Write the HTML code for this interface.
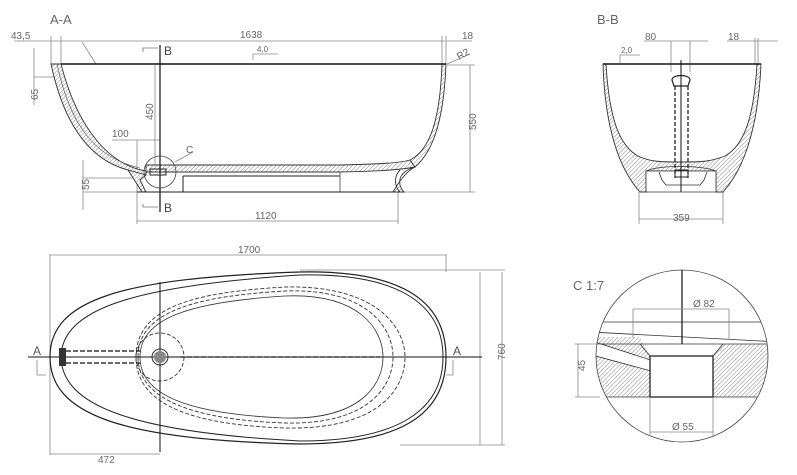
<!DOCTYPE html>
<html><head><meta charset="utf-8"><style>
html,body{margin:0;padding:0;background:#fff}
svg{display:block}
text{font-family:"Liberation Sans",sans-serif;fill:#666}
</style></head><body>
<svg width="797" height="475" viewBox="0 0 797 475" xmlns="http://www.w3.org/2000/svg">
<defs>
<pattern id="h" width="3" height="3" patternUnits="userSpaceOnUse" patternTransform="rotate(45)">
<rect width="3" height="3" fill="#fff"/><line x1="0" y1="0" x2="0" y2="3" stroke="#777" stroke-width="0.9"/>
</pattern>
</defs>

<!-- ===== A-A ===== -->
<text x="50" y="24" font-size="13">A-A</text>
<g stroke="#888" stroke-width="0.8" fill="none">
<line x1="14" y1="41" x2="445" y2="41"/>
<line x1="51" y1="36" x2="51" y2="64"/><line x1="61" y1="36" x2="61" y2="64"/>
<line x1="442" y1="36" x2="442" y2="64"/><line x1="446" y1="36" x2="446" y2="64"/>
<line x1="446" y1="41" x2="472" y2="41"/>
<line x1="34" y1="48" x2="34" y2="105"/>
<line x1="34" y1="77" x2="62" y2="77"/>
<line x1="82" y1="42" x2="96" y2="64"/>
<line x1="155" y1="65" x2="155" y2="165"/>
<line x1="112" y1="140" x2="160" y2="140"/><line x1="137" y1="140" x2="137" y2="224"/>
<line x1="83" y1="160" x2="83" y2="210"/><line x1="83" y1="178" x2="140" y2="178"/><line x1="83" y1="192" x2="137" y2="192"/>
<line x1="137" y1="221" x2="398" y2="221"/><line x1="398" y1="192" x2="398" y2="224"/>
<line x1="470" y1="65" x2="470" y2="192"/><line x1="400" y1="192" x2="475" y2="192"/><line x1="447" y1="65" x2="475" y2="65"/>
<line x1="175" y1="162" x2="193" y2="152"/>
<line x1="447" y1="64" x2="470" y2="54"/>
<line x1="253" y1="60" x2="253" y2="54"/><line x1="253" y1="54" x2="278" y2="54"/>
</g>
<text x="11" y="39" font-size="10">43,5</text>
<text x="240" y="38" font-size="10">1638</text>
<text x="462" y="39" font-size="10">18</text>
<text x="257" y="52" font-size="8">4,0</text>
<text x="457" y="58" font-size="10" transform="rotate(-30 462 55)">R2</text>
<text x="112" y="137" font-size="10">100</text>
<text x="153" y="120" font-size="10" transform="rotate(-90 153 120)">450</text>
<text x="84" y="195" font-size="10" transform="rotate(-90 84 190)">55</text>
<text x="35" y="103" font-size="10" transform="rotate(-90 35 100)">65</text>
<text x="470" y="136" font-size="10" transform="rotate(-90 470 130)">550</text>
<text x="186" y="153" font-size="10">C</text>
<text x="255" y="219" font-size="10">1120</text>
<!-- left wall band -->
<path d="M51,64 C64,125 90,160 128,170 L137,175 L146,175 L146,171 C110,165 78,130 61,64 Z" fill="url(#h)" stroke="#333" stroke-width="0.9"/>
<path d="M57,64 C70,125 95,158 140,168" fill="none" stroke="#555" stroke-width="0.6"/>
<!-- left foot -->
<path d="M128,170 L142,192 L146,192 L140,180 L146,175 Z" fill="url(#h)" stroke="#333" stroke-width="0.9"/>
<!-- floor band -->
<path d="M146,165 L340,165 C380,164 400,163 410,160 L415,167 C400,170 380,171 340,172 L146,172 Z" fill="url(#h)" stroke="#333" stroke-width="0.9"/>
<!-- right wall band -->
<path d="M442,64 C440,120 430,150 410,160 L415,167 C435,150 444,115 446,64 Z" fill="url(#h)" stroke="#333" stroke-width="0.9"/>
<!-- right foot -->
<path d="M415,167 C405,170 398,175 400,185 C401,189 404,192 404,192 L393,192 C397,185 405,172 415,167 Z" fill="url(#h)" stroke="#333" stroke-width="0.9"/>
<path d="M400,170 C394,176 394,186 400,192" fill="none" stroke="#333" stroke-width="0.9"/>
<line x1="183" y1="176" x2="340" y2="176" stroke="#222" stroke-width="1"/>
<line x1="183" y1="176" x2="183" y2="192" stroke="#222" stroke-width="1"/>
<line x1="340" y1="172" x2="340" y2="192" stroke="#444" stroke-width="0.8"/>
<line x1="61" y1="64" x2="446" y2="64" stroke="#111" stroke-width="1.6"/>
<line x1="137" y1="192" x2="400" y2="192" stroke="#222" stroke-width="1"/>
<line x1="160" y1="45" x2="160" y2="212" stroke="#111" stroke-width="1.2"/>
<path d="M143,52 L143,48 L158,48 M143,204 L143,207 L158,207" fill="none" stroke="#777" stroke-width="0.8"/>
<text x="164" y="55" font-size="12" style="fill:#444">B</text>
<text x="164" y="212" font-size="12" style="fill:#444">B</text>
<circle cx="160" cy="172" r="16" fill="none" stroke="#444" stroke-width="0.8"/>
<rect x="150" y="169" width="16" height="6" fill="none" stroke="#222" stroke-width="1"/>

<!-- ===== B-B ===== -->
<text x="597" y="24" font-size="13">B-B</text>
<g stroke="#888" stroke-width="0.8" fill="none">
<line x1="644" y1="41" x2="708" y2="41"/>
<line x1="671" y1="41" x2="671" y2="72"/><line x1="690" y1="41" x2="690" y2="72"/>
<line x1="727" y1="41" x2="778" y2="41"/>
<line x1="755" y1="38" x2="755" y2="64"/><line x1="758" y1="38" x2="758" y2="64"/>
<line x1="620" y1="55" x2="640" y2="55"/><line x1="620" y1="55" x2="620" y2="63"/>
<line x1="639" y1="192" x2="639" y2="224"/><line x1="723" y1="192" x2="723" y2="224"/>
<line x1="639" y1="219" x2="723" y2="219"/>
</g>
<text x="645" y="40" font-size="10">80</text>
<text x="728" y="40" font-size="10">18</text>
<text x="621" y="53" font-size="8">2,0</text>
<text x="673" y="221" font-size="10">359</text>
<!-- bowl band -->
<path d="M603,64 C605,130 620,170 640,192 L646,192 L646,171 L716,171 L716,192 L723,192 C743,170 758,130 761,64 L757,64 C754,115 745,145 725,156 C710,162 700,162 681,162 C662,162 650,162 638,156 C618,145 609,115 606,64 Z" fill="url(#h)" stroke="#333" stroke-width="0.9"/>
<path d="M646,171 L716,171 L716,192 L646,192 Z" fill="#fff" stroke="#333" stroke-width="0.8"/>
<path d="M646,171 C660,165 700,165 716,171" fill="none" stroke="#333" stroke-width="0.8"/>
<path d="M659,172 L662,180 L666,185 L700,185 L704,180 L707,172" fill="none" stroke="#333" stroke-width="0.8"/>
<line x1="603" y1="64" x2="761" y2="64" stroke="#111" stroke-width="1.6"/>
<path d="M672,80 C672,74 690,74 690,80 L688,86 L674,86 Z" fill="none" stroke="#222" stroke-width="1.2"/>
<g stroke="#222" stroke-width="1.3" stroke-dasharray="4,2"><line x1="675" y1="86" x2="675" y2="178"/><line x1="688" y1="86" x2="688" y2="178"/></g>
<rect x="675" y="170" width="13" height="7" fill="none" stroke="#222"/>
<line x1="681" y1="60" x2="681" y2="192" stroke="#111" stroke-width="1"/>

<!-- ===== PLAN ===== -->
<g stroke="#888" stroke-width="0.8" fill="none">
<line x1="50" y1="254" x2="50" y2="455"/><line x1="446" y1="254" x2="446" y2="272"/>
<line x1="50" y1="255" x2="446" y2="255"/>
<line x1="300" y1="270" x2="505" y2="270"/><line x1="400" y1="445" x2="505" y2="445"/>
<line x1="480" y1="272" x2="480" y2="445"/><line x1="502" y1="272" x2="502" y2="445"/>
<line x1="50" y1="454" x2="160" y2="454"/>
<path d="M37,360 L37,375 L46,375 M453,360 L453,375 L446,375"/>
</g>
<text x="238" y="253" font-size="10">1700</text>
<text x="497" y="368" font-size="10" transform="rotate(-90 497 360)">760</text>
<text x="98" y="463" font-size="10">472</text>
<text x="33" y="355" font-size="12" style="fill:#555">A</text>
<text x="453" y="355" font-size="12" style="fill:#555">A</text>
<path d="M50,357 C50,300 120,278 300,272 C400,270 446,300 446,357 C446,415 400,444 300,444 C120,440 50,414 50,357 Z" fill="none" stroke="#222" stroke-width="1.2"/>
<path d="M61,357 C62,310 130,286 300,275 C395,273 443,302 443,357 C443,412 395,441 300,441 C130,432 62,405 61,357 Z" fill="none" stroke="#222" stroke-width="1"/>
<path d="M140,357 C140,318 190,302 285,296 C360,293 383,330 383,357 C383,385 360,420 285,418 C190,414 140,396 140,357 Z" fill="none" stroke="#333" stroke-width="0.8"/>
<g fill="none" stroke="#333" stroke-width="0.9" stroke-dasharray="4,2">
<path d="M138,357 C138,310 200,296 285,291 C370,288 393,330 393,357 C393,385 370,425 285,423 C200,420 138,402 138,357 Z"/>
<path d="M136,357 C136,305 200,292 285,287 C380,285 405,330 405,357 C405,388 380,430 285,428 C200,425 136,408 136,357 Z"/>
<circle cx="160" cy="357" r="24"/>
</g>
<line x1="28" y1="357" x2="482" y2="357" stroke="#111" stroke-width="1"/>
<g stroke="#111" stroke-width="1.3" stroke-dasharray="5,2"><line x1="66" y1="351" x2="140" y2="351"/><line x1="66" y1="363" x2="140" y2="363"/><line x1="180" y1="357" x2="380" y2="357"/></g>
<rect x="59" y="348" width="7" height="18" fill="#333"/>
<line x1="160" y1="282" x2="160" y2="452" stroke="#111" stroke-width="1"/>
<circle cx="160" cy="357" r="8" fill="none" stroke="#333"/>
<circle cx="160" cy="357" r="6" fill="#888"/>

<!-- ===== C detail ===== -->
<text x="573" y="290" font-size="13">C 1:7</text>
<defs><clipPath id="cc"><circle cx="682" cy="356" r="86"/></clipPath></defs>
<g clip-path="url(#cc)">
<path d="M590,337 L640,337 L650,356 L650,397 L590,397 Z" fill="url(#h)" stroke="none"/>
<path d="M723,344 L780,344 L780,397 L713,397 L713,356 Z" fill="url(#h)" stroke="none"/>
<path d="M592,341 L675,368 L677,378 L592,355 Z" fill="#fff" stroke="#333" stroke-width="0.8"/>
<g stroke="#333" stroke-width="0.8" fill="none">
<line x1="590" y1="322" x2="780" y2="322"/><line x1="590" y1="332" x2="780" y2="342"/>
<line x1="590" y1="344" x2="780" y2="344"/><line x1="590" y1="397" x2="780" y2="397"/>
</g>
</g>
<rect x="650" y="356" width="63" height="41" fill="#fff" stroke="#111" stroke-width="1.2"/>
<path d="M640,344 L650,356 M723,344 L713,356" stroke="#333" stroke-width="0.8"/>
<circle cx="682" cy="356" r="86" fill="none" stroke="#444" stroke-width="0.8"/>
<line x1="682" y1="270" x2="682" y2="344" stroke="#111" stroke-width="1.2"/>
<g stroke="#888" stroke-width="0.8" fill="none">
<line x1="633" y1="309" x2="729" y2="309"/><line x1="633" y1="309" x2="633" y2="338"/><line x1="729" y1="309" x2="729" y2="340"/>
<line x1="650" y1="397" x2="650" y2="436"/><line x1="713" y1="397" x2="713" y2="436"/><line x1="650" y1="432" x2="713" y2="432"/>
<line x1="578" y1="344" x2="578" y2="397"/><line x1="575" y1="344" x2="600" y2="344"/><line x1="575" y1="397" x2="600" y2="397"/>
</g>
<text x="693" y="307" font-size="10">Ø 82</text>
<text x="672" y="430" font-size="10">Ø 55</text>
<text x="580" y="376" font-size="10" transform="rotate(-90 580 371)">45</text>
</svg>
</body></html>
